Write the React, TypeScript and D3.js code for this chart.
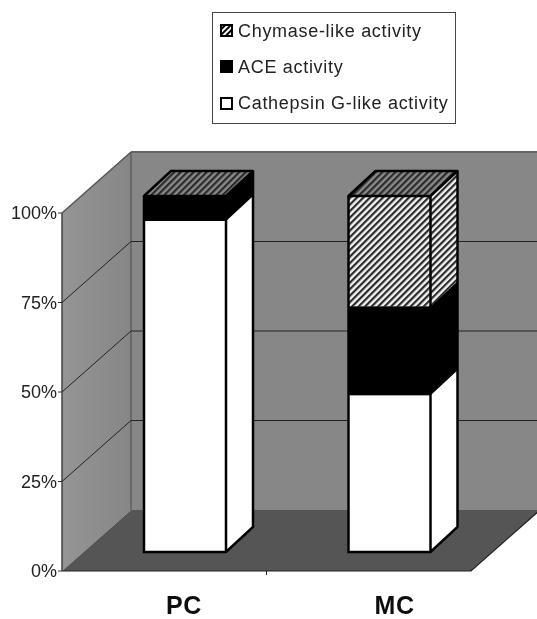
import React from "react";
import * as d3 from "d3";

const categories = ["PC", "MC"];
const seriesNames = ["Cathepsin G-like activity", "ACE activity", "Chymase-like activity"];
const cathepsin = [93, 44];
const ace = [7, 25];
const chymase = [0, 31];
const yTicks = [0, 25, 50, 75, 100];
const legendOrder = [2, 1, 0];

const W = 537, H = 619;
const y = d3.scaleLinear().domain([0, 100]).range([571, 213]);
const yBack = d3.scaleLinear().domain([0, 100]).range([510, 152]);
const barY = d3.scaleLinear().domain([0, 100]).range([552, 196]);
const xBand = d3.scaleBand<string>().domain(categories).range([62, 471]);
const DX = 69;
const BDX = 27, BDY = -25;
const BW = 82;
const poly = (pts: [number, number][]) => (d3.line()(pts) as string) + "Z";
const FONT = "'Liberation Sans', Arial, sans-serif";

function Hatch({ id, bg, fg }: { id: string; bg: string; fg: string }) {
  return (
    <pattern id={id} width={4.6} height={4.6} patternUnits="userSpaceOnUse" patternTransform="rotate(45)">
      <rect width={4.6} height={4.6} fill={bg} />
      <rect width={2.2} height={4.6} fill={fg} />
    </pattern>
  );
}

export default function App() {
  const rows = categories.map((c, i) => ({
    c,
    x0: (xBand(c) as number) + (xBand.bandwidth() - BW) / 2 + 20.75,
    segs: [
      { v0: 0, v1: cathepsin[i], fill: "#fff" },
      { v0: cathepsin[i], v1: cathepsin[i] + ace[i], fill: "#000" },
      { v0: cathepsin[i] + ace[i], v1: cathepsin[i] + ace[i] + chymase[i], fill: "url(#hW)" },
    ],
  }));
  const total = (i: number) => cathepsin[i] + ace[i] + chymase[i];

  return (
    <svg width={W} height={H} viewBox={`0 0 ${W} ${H}`} style={{ position: "absolute", left: 0, top: 0, background: "#fff" }}>
      <defs>
        <Hatch id="hW" bg="#f4f4f4" fg="#2a2a2a" />
        <Hatch id="hD" bg="#8a8a8a" fg="#2a2a2a" />
        <pattern id="hL" width={4} height={4} patternUnits="userSpaceOnUse" patternTransform="rotate(45)">
          <rect width={4} height={4} fill="#fff" />
          <rect width={2} height={4} fill="#000" />
        </pattern>
        <linearGradient id="wallL" x1="0" x2="1" y1="0" y2="0">
          <stop offset="0" stopColor="#959595" />
          <stop offset="1" stopColor="#868686" />
        </linearGradient>
        <filter id="soft"><feGaussianBlur stdDeviation="0.35" /></filter>
      </defs>
      <g filter="url(#soft)">
        <path d={poly([[131, yBack(100)], [W, yBack(100)], [W, yBack(0)], [131, yBack(0)]])} fill="#878787" />
        <path d={poly([[62, y(100)], [131, yBack(100)], [131, yBack(0)], [62, y(0)]])} fill="url(#wallL)" />
        <path d={poly([[62, y(0)], [131, yBack(0)], [471 + DX, yBack(0)], [471, y(0)]])} fill="#555" />
        <path d={`M131,${yBack(100)}H${W}`} stroke="#666" strokeWidth={2} fill="none" />
        <path d={`M131,${yBack(100)}V${yBack(0)}`} stroke="#5f5f5f" strokeWidth={1.5} fill="none" />
        <path d={`M62,${y(100)}L131,${yBack(100)}`} stroke="#555" strokeWidth={1.5} fill="none" />
        <path d={`M62,${y(100)}V${y(0)}`} stroke="#444" strokeWidth={1.5} fill="none" />
        {yTicks.filter((t) => t > 0 && t < 100).map((t) => (
          <path key={t} d={`M62,${y(t)}L131,${yBack(t)}H${W}`} stroke="#222" strokeWidth={1} fill="none" />
        ))}
        <path d={`M62,${y(0)}H471L${471 + DX},${yBack(0)}`} stroke="#222" strokeWidth={1.2} fill="none" />
        <path d={`M${(62 + 471) / 2},${y(0)}v4`} stroke="#222" fill="none" />
        {yTicks.map((t) => (
          <path key={t} d={`M58,${y(t)}H62`} stroke="#333" fill="none" />
        ))}

        {rows.map((r, i) => (
          <g key={r.c}>
            {r.segs.filter((s) => s.v1 > s.v0).map((s, j) => (
              <g key={j}>
                <path d={poly([[r.x0, barY(s.v0)], [r.x0 + BW, barY(s.v0)], [r.x0 + BW, barY(s.v1)], [r.x0, barY(s.v1)]])} fill={s.fill} />
                <path d={poly([[r.x0 + BW, barY(s.v0)], [r.x0 + BW + BDX, barY(s.v0) + BDY], [r.x0 + BW + BDX, barY(s.v1) + BDY], [r.x0 + BW, barY(s.v1)]])} fill={s.fill} />
              </g>
            ))}
            <path
              d={poly([[r.x0, barY(total(i))], [r.x0 + BW, barY(total(i))], [r.x0 + BW + BDX, barY(total(i)) + BDY], [r.x0 + BDX, barY(total(i)) + BDY]])}
              fill="url(#hD)"
              stroke="#000"
              strokeWidth={2.5}
              strokeLinejoin="round"
            />
            <path
              d={`M${r.x0},${barY(total(i))}V${barY(0)}H${r.x0 + BW}L${r.x0 + BW + BDX},${barY(0) + BDY}V${barY(total(i)) + BDY}M${r.x0 + BW},${barY(0)}V${barY(total(i))}`}
              fill="none"
              stroke="#000"
              strokeWidth={2.5}
            />
          </g>
        ))}

        {yTicks.map((t) => (
          <text key={t} x={57} y={y(t)} dy="0.36em" textAnchor="end" fontFamily={FONT} fontSize={18} fill="#222">{t}%</text>
        ))}
        {rows.map((r, i) => (
          <text key={r.c} x={r.x0 + BW / 2 + (i === 0 ? -1 : 5)} y={613.5} textAnchor="middle" fontFamily={FONT} fontSize={25} letterSpacing={0.6} fontWeight={700} fill="#111">{r.c}</text>
        ))}

        <rect x={212.5} y={12.5} width={243} height={111} fill="#fff" stroke="#444" strokeWidth={1} />
        {legendOrder.map((si, k) => {
          const cy = 31 + k * 36;
          const fills = ["#fff", "#000", "url(#hL)"];
          return (
            <g key={si}>
              <rect x={221} y={cy - 6 + (k === 2 ? 1 : 0)} width={11} height={11} fill={fills[si]} stroke="#000" strokeWidth={2} />
              <text x={238} y={cy} dy="0.36em" fontFamily={FONT} fontSize={18} letterSpacing={0.7} fill="#222">{seriesNames[si]}</text>
            </g>
          );
        })}
      </g>
    </svg>
  );
}
